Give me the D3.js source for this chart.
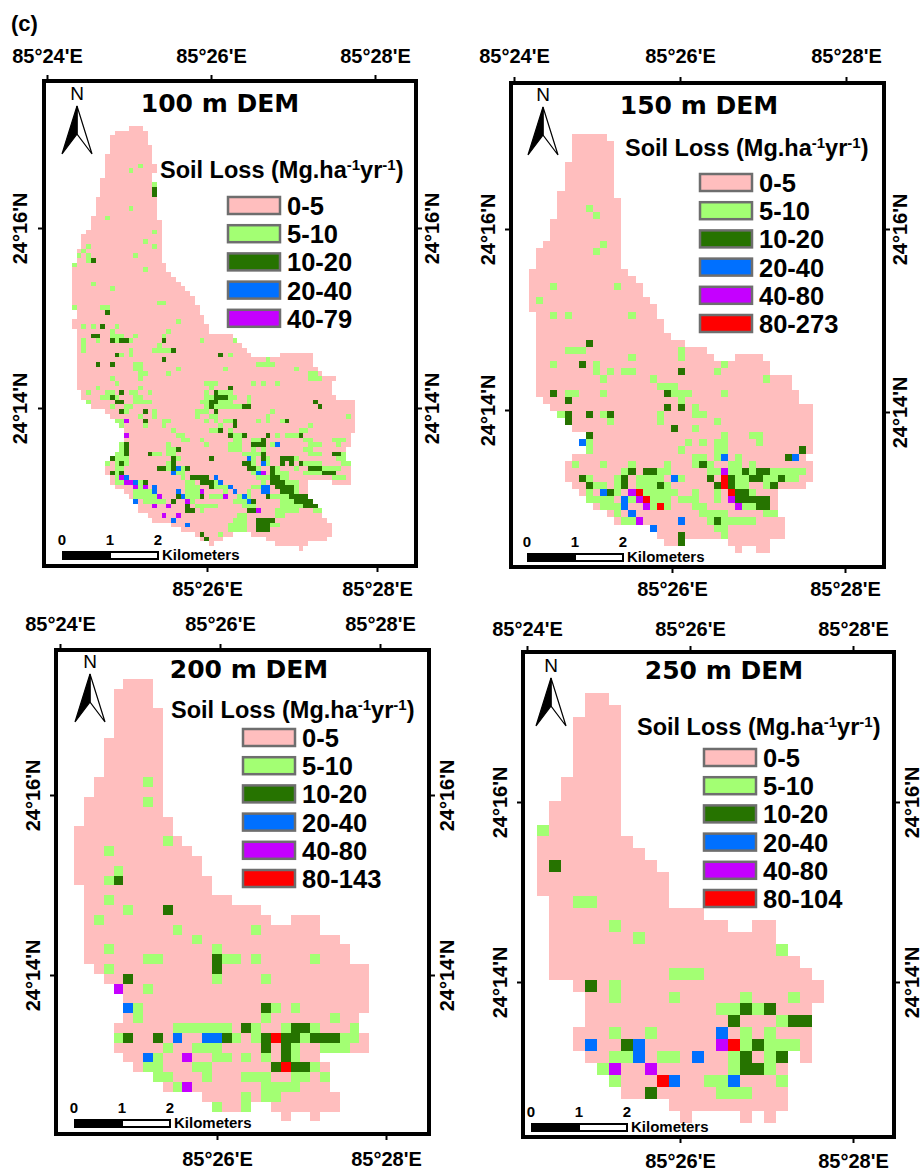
<!DOCTYPE html>
<html>
<head>
<meta charset="utf-8">
<title>Soil loss by DEM resolution</title>
<script src="https://cdn.jsdelivr.net/npm/d3@7"></script>
<style>
html, body { margin: 0; padding: 0; background: #fff; }
text { font-family: "Liberation Sans", Arial, sans-serif; fill: #000; }
.axis path { display: none; }
.axis line { stroke: #000; stroke-width: 2; }
.axis text { font-size: 20px; font-weight: bold; }
.dem { font-family: "DejaVu Sans", sans-serif; font-weight: bold; font-size: 25px; }
.ltitle { font-size: 23.5px; font-weight: bold; }
.llabel { font-size: 25.5px; font-weight: bold; }
.scale { font-size: 15px; font-weight: bold; }
</style>
</head>
<body>
<div id="chart"></div>
<script>
/* class names and colours, same order everywhere */
var classColors = ["#ffbebe", "#a3ff73", "#267300", "#0070ff", "#c500ff", "#ff0000"];

var legend100 = ["0-5", "5-10", "10-20", "20-40", "40-79"];
var legend150 = ["0-5", "5-10", "10-20", "20-40", "40-80", "80-273"];
var legend200 = ["0-5", "5-10", "10-20", "20-40", "40-80", "80-143"];
var legend250 = ["0-5", "5-10", "10-20", "20-40", "40-80", "80-104"];

/* footprint of the basin: index = raster row, values = first,last column pairs */
var rows100 = [[12,14],[9,15],[8,15],[8,15],[8,16],[8,16],[7,16],[7,16],[7,17],[7,17],[7,16],[6,16],[6,17],[6,17],[6,17],[5,17],[5,17],[5,17],[5,17],[4,17],
  [4,18],[4,18],[3,18],[2,18],[2,18],[2,18],[1,18],[1,18],[1,18],[0,19],[0,19],[0,20],[0,21],[0,22],[0,23],[0,24],[0,25],[0,25],[0,26],[1,26],
  [1,27],[0,27],[0,28],[1,28],[1,33],[1,34],[1,35],[1,36],[1,37,44,50],[1,50],[1,50],[1,51],[1,52],[1,55],[1,54],[1,54],[2,54],[2,55],[3,59],[4,59],
  [7,59],[8,59],[9,59],[10,59],[11,59],[11,58],[11,58],[11,58],[10,57],[9,57],[8,57],[7,58],[7,58],[7,58],[8,58],[8,49,55,58],[9,49],[11,49],[12,49],[13,50],
  [14,51],[14,51],[16,52],[17,53],[21,54],[23,54],[26,33,38,54],[27,31,41,53],[29,29,43,49],[48,48]];
var rows150 = [[6,10],[6,11],[6,11],[6,11],[5,11],[5,11],[5,11],[5,11],[4,11],[4,12],[4,12],[4,12],[3,12],[3,12],[3,12],[2,12],[1,12],[1,12],[1,12],[0,13],
  [0,14],[0,15],[0,15],[0,16],[0,17],[1,17],[1,18],[1,18],[1,19],[1,21],[1,24],[1,25,29,32],[1,33],[1,33],[1,36],[1,36],[1,37],[2,37],[3,39],[4,39],
  [5,39],[6,39],[8,39],[7,39],[8,39],[6,38],[5,39],[5,39],[5,39],[6,38],[7,34],[8,34],[9,34],[11,34],[12,35],[17,35],[18,35],[19,21,28,33],[29,29,32,33]];
var rows200 = [[5,7],[4,7],[4,7],[4,8],[4,8],[4,8],[3,8],[3,8],[3,8],[3,8],[2,8],[2,8],[1,8],[1,8],[1,9],[0,9],[0,10],[0,11],[0,12],[0,12],
  [0,13],[1,13],[1,15],[1,18],[1,19,22,24],[1,24],[1,26],[1,27],[1,27],[2,29],[3,29],[4,29],[5,29],[5,29],[5,28],[4,28],[4,29],[4,29],[5,24],[6,25],
  [8,25],[9,25],[13,26],[14,17,20,26],[21,21,24,24]];
var rows250 = [[4,5],[4,6],[3,6],[3,6],[3,6],[3,6],[3,6],[2,6],[2,6],[1,6],[1,6],[0,6],[0,7],[0,8],[0,9],[0,10],[0,10],[1,10],[1,13],[1,15,18,19],
  [1,19],[1,20],[1,21],[1,22],[3,23],[4,23],[4,22],[4,22],[3,22],[3,22],[4,20,22,22],[5,20],[6,20],[7,20],[11,20],[12,12,17,17,19,19]];

/* cells above the 0-5 class: [row, column] or [row, first column, last column] */
var green100 = [[8,14],[9,12],[12,17],[17,12],[19,7],[22,17],[24,15],[25,3],[25,17],[26,2],[27,1],[27,3],[27,13],[28,3],[29,0],[30,15],[33,4],[34,8],[37,18,19],[38,0],[38,6,7],
  [41,22],[42,2],[42,4],[42,9],[43,8],[43,20],[44,8,10],[44,13],[44,19],[45,2],[45,5],[45,9],[45,12],[45,27],[45,34],[46,2],[46,18],[47,2],[47,12],[47,17,20],[48,10],[48,12],[48,33],[49,41],
  [50,13,14],[50,39,42],[51,13,14],[51,22],[51,32],[51,47],[52,14,15],[52,20],[52,50,51],[53,8],[53,14],[53,50,52],[54,9],[54,28,30],[54,38],[54,40],[54,43],[55,5],[55,14],[55,29],
  [56,3],[56,7,8],[56,12,13],[56,16],[56,28],[56,31,33],[57,6,7],[57,9],[57,13,14],[57,28,29],[57,33,34],[57,37],[58,3],[58,13,16],[58,27,28],[58,31,33],[58,37],
  [59,8],[59,11,12],[59,28],[59,30,33],[59,34,35],[60,11],[60,17],[60,26,28],[60,42],[61,14],[61,17],[61,26],[61,29,30],[61,41],[61,58],
  [62,9,10],[62,19,20],[62,28],[62,30],[62,32,33],[62,39],[62,41],[62,44],[63,10],[63,15],[63,19],[63,31],[63,50],[64,21],[64,29,30],[64,33],[64,48,49],
  [65,22,23],[65,34,35],[65,43],[65,45,47],[66,23,24],[66,27],[66,34,35],[66,38,39],[66,49,50],[66,55,57],[67,10],[67,20],[67,28],[67,33,35],[67,42],[67,50,52],[67,56],
  [68,10],[68,20,21],[68,33,35],[68,38],[68,40],[68,49,50],[69,9,10],[69,17,18],[69,20,21],[69,36,39],[69,50,52],[69,57],[70,9,11],[70,22],[70,38],[70,41],[70,47],[70,56,57],
  [71,7],[71,9],[71,11],[71,20],[71,38],[71,41],[71,49,52],[71,57,58],[72,9,10],[72,20],[72,23],[72,39],[72,43],[72,47],[72,53,56],[73,9],[73,22,23],[73,38],[73,43,45],[73,49,52],
  [74,9],[74,23],[74,39,41],[74,44,45],[74,55,57],[75,9,10],[75,14],[75,24,25],[75,30],[75,40],[75,45,47],[76,14],[76,24,26],[76,30,32],[76,38,39],[76,47],[77,13,16],[77,24,26],[77,32],[77,37],[77,47],
  [78,13,17],[78,24,26],[78,29,31],[78,35,37],[78,42,45],[79,15,19],[79,24,25],[79,34,36],[79,44,46],[80,26,30],[80,36,38],[80,44,48],[81,27],[81,43,47],[81,51,52],[82,35,36],[82,43,44],[83,34,36],[84,33,36],[84,42,43],[85,33,36],[86,31]];
var dark100 = [[13,17],[14,17],[28,4],[39,7],[42,6],[44,4,5],[45,8],[45,10,11],[45,19],[47,21],[48,9],[48,31],[49,19],[50,5],[50,8],[55,33],[56,10],[56,30],[57,8],[57,30,32],[58,9,10],[58,29,30],[58,51],
  [59,29],[59,36,37],[59,52],[60,10],[60,15],[60,30],[62,15],[62,34],[62,45],[63,34],[64,31],[65,33],[65,36],[65,41],[65,48],[66,40],[67,11],[67,38,40],[68,11],[68,22],[69,11],[69,16],[69,40],[69,55,56],
  [70,8],[70,21],[70,29],[70,40],[70,44,46],[71,10],[71,21],[71,36,37],[71,44],[71,46],[71,48],[72,18,19],[72,21],[72,24],[72,37,38],[72,42],[72,50,52],[73,8],[73,10],[73,42],[73,53,55],
  [74,25,28],[74,42,43],[75,15],[75,27,29],[75,42,44],[76,29],[76,43,46],[77,44,46],[78,22],[78,27],[78,41],[78,46,49],[79,21],[79,38],[79,47,50],[80,24],[80,49,51],[81,24,25],[81,37,38],[83,39,42],[84,39,41],[85,39,41],[86,27],[87,28]];
var blue100 = [[67,43],[70,37],[71,40],[72,22],[73,21],[73,39],[74,11],[74,30],[75,13],[75,31],[76,17],[76,33],[76,40,41],[77,17],[77,22],[77,34],[77,40,41],[78,23],[78,36],[79,13],[79,37],[83,21],[84,24]];
var purple100 = [[62,11],[65,11],[73,40],[74,10],[75,11,12],[76,13],[76,15],[77,27],[78,18],[78,32],[79,24],[80,17],[80,20],[81,39],[82,19],[82,22]];

var green150 = [[10,8],[11,9],[15,10],[16,9],[21,3],[21,12],[23,1],[25,3],[25,5],[25,14],[30,5,7],[30,21],[31,14],[31,21],[32,3],[32,9],[32,27],[33,9],[33,11],[33,13,14],[33,26],[34,10],[34,17],[34,33],
  [35,18,20],[36,5,6],[36,10],[36,20,22],[36,27],[37,21],[38,23],[39,4],[39,10],[39,18],[39,23,24],[40,11],[40,18],[40,26],[41,23],[42,27],[42,31,32],[43,8],[43,22],[43,24],[43,26,27],[43,32],
  [44,8],[44,21],[44,26,27],[45,23,24],[45,26],[45,29],[46,6],[46,10],[46,14],[46,19],[46,23],[46,25],[46,28,29],[46,31],[47,13],[47,18,19],[47,25,26],[47,28,29],[47,31],[47,34,38],
  [48,8],[48,12],[48,15,18],[48,21],[48,29,30],[48,33,34],[48,36,37],[49,9,10],[49,12],[49,15,17],[49,19],[49,29,30],[49,33],[50,8],[50,12],[50,16,20],[50,23],[50,26],[50,31],
  [51,8,11],[51,14],[51,17,19],[51,21,23],[51,26],[52,10,12],[52,17],[52,19],[52,23,24],[52,30,31],[53,12],[53,24,27],[53,33,34],[54,13,14],[54,25],[54,27,31],[55,26,27],[56,27]];
var dark150 = [[29,8],[32,7],[33,21],[36,3],[36,19],[37,5],[38,19],[38,21],[39,5],[39,8],[39,11],[40,5],[41,20],[42,8],[44,38],[45,36],[46,24],[47,14],[47,16,17],[47,30],[47,32,33],
  [48,7],[48,13],[48,25],[48,28],[48,31,32],[48,35],[49,8],[49,13],[49,18],[49,26],[49,28],[49,34],[50,11],[50,29,30],[51,29,33],[52,32,33],[54,26],[56,21],[57,21]];
var blue150 = [[43,7],[45,27],[45,37],[48,20],[50,10],[51,13],[52,13],[53,14],[54,21],[55,17]];
var purple150 = [[47,27],[50,14],[51,15],[51,28],[52,16],[52,29],[54,15]];
var red150 = [[48,27],[49,27],[50,15],[50,28],[51,16],[52,18]];

var green200 = [[10,7],[12,7],[16,9],[17,3],[19,4],[20,3],[22,3],[23,5],[24,2],[25,10],[25,18],[26,12],[27,3],[27,14],[28,7,8],[28,15,16],[28,18],[28,24],[29,3],[30,14],[30,19],[31,7],[33,6],[33,20],[33,22],[34,6],[34,19],[34,26],
  [35,10,15],[35,18],[35,21],[35,24],[35,28],[36,4],[36,16],[36,18],[36,23],[36,27,28],[37,9],[37,12,14],[37,22],[37,25,27],[38,8],[38,14,15],[38,17],[38,19],[38,22],[39,7,8],[39,12,13],[39,24],
  [40,8,9],[40,13],[40,17,19],[40,22,23],[40,25],[41,10],[41,19,22],[42,17],[42,19,20],[43,14],[43,17]];
var dark200 = [[20,4],[23,9],[28,14],[29,14],[30,5],[33,19],[35,17],[35,22,23],[36,5],[36,8],[36,15],[36,19],[36,21,22],[36,24,26],[37,19],[37,21],[38,21],[39,20],[39,22,23]];
var blue200 = [[33,5],[36,10],[36,13,14],[38,7]];
var purple200 = [[31,4],[38,11],[41,11]];
var red200 = [[36,20],[39,21]];

var green250 = [[11,0],[17,3,4],[19,6],[20,8],[21,20],[23,11,13],[24,6],[25,6],[25,11],[25,17],[25,21],[26,15,16],[26,18],[27,20],[28,6],[28,9],[28,17],[28,19],[29,17],[29,19,21],[30,6,7],[30,10,11],[30,16],[30,19],[31,5],[31,16],[31,19],[32,6],[32,14,15],[32,20],[33,15,17]];
var dark250 = [[14,1],[24,4],[26,17],[26,19],[27,16],[27,21,22],[29,7],[29,18],[30,17],[30,20],[31,17,18],[33,9]];
var blue250 = [[28,15],[29,4],[29,8],[30,8],[30,13],[32,11],[32,16]];
var purple250 = [[29,15],[31,6],[31,9]];
var red250 = [[29,16],[32,10]];

/* tick labels on the graticule, minutes of arc */
var lonTop = [24, 26, 28];
var lonBottom = [26, 28];
var latTicks = [16, 14];

var width = 922;
var height = 1172;

var svg = d3.select("#chart").append("svg")
    .attr("width", width)
    .attr("height", height);

/* panel layout */
var panels = [
  { name: "100 m DEM", rows: rows100, cells: [[], green100, dark100, blue100, purple100, []], legend: legend100,
    frame: [44, 81, 416, 566], x0: 72, y0: 125.8, cell: 4.723,
    top: [47, 211, 55], bottom: [207, 377, 590], left: [228, 408, 20], right: [228, 408, 432],
    titleX: 220, titleY: 112, legX: 160, legY: 178, swX: 228, swY: 197, north: [77, 106], bar: [62, 551] },
  { name: "150 m DEM", rows: rows150, cells: [[], green150, dark150, blue150, purple150, red150], legend: legend150,
    frame: [511, 83, 884, 567], x0: 529, y0: 134, cell: 7.1,
    top: [514, 680, 55], bottom: [672, 845, 590], left: [229, 410, 488], right: [229, 412, 900],
    titleX: 699, titleY: 114, legX: 625, legY: 156, swX: 700, swY: 174, north: [543, 107], bar: [527, 553] },
  { name: "200 m DEM", rows: rows200, cells: [[], green200, dark200, blue200, purple200, red200], legend: legend200,
    frame: [56, 650, 429, 1134], x0: 74.3, y0: 679, cell: 9.83,
    top: [60, 220, 623], bottom: [217, 386, 1160], left: [795, 975, 33], right: [795, 975, 447],
    titleX: 249, titleY: 678, legX: 171, legY: 718, swX: 243, swY: 729, north: [90, 674], bar: [74, 1119] },
  { name: "250 m DEM", rows: rows250, cells: [[], green250, dark250, blue250, purple250, red250], legend: legend250,
    frame: [523, 652, 894, 1137], x0: 537.3, y0: 693.3, cell: 11.93,
    top: [527, 690, 628], bottom: [680, 853, 1162], left: [802, 982, 500], right: [802, 982, 912],
    titleX: 724, titleY: 679, legX: 637, legY: 735, swX: 704, swY: 749, north: [551, 678], bar: [531, 1123] }
];

svg.append("text")
    .attr("x", 11)
    .attr("y", 31)
    .style("font-size", "22px")
    .style("font-weight", "bold")
    .text("(c)");

panels.forEach(drawPanel);

function drawPanel(p) {
    var g = svg.append("g").attr("class", "panel");
    var f = p.frame;
    var nrows = p.rows.length;
    var ncols = d3.max(p.rows, function (r) { return d3.max(r); }) + 1;

    var x = d3.scaleLinear().domain([0, ncols]).range([p.x0, p.x0 + ncols * p.cell]);
    var y = d3.scaleLinear().domain([0, nrows]).range([p.y0, p.y0 + nrows * p.cell]);

    // split the row table into spans
    var spans = [];
    p.rows.forEach(function (r, i) {
        for (var k = 0; k < r.length; k += 2) {
            spans.push([i, r[k], r[k + 1]]);
        }
    });

    var map = g.append("g").attr("shape-rendering", "crispEdges");
    drawCells(map, spans, classColors[0], x, y);
    p.cells.forEach(function (cells, i) {
        if (cells.length) drawCells(map, cells, classColors[i], x, y);
    });

    // frame
    g.append("rect")
        .attr("x", f[0])
        .attr("y", f[1])
        .attr("width", f[2] - f[0])
        .attr("height", f[3] - f[1])
        .attr("fill", "none")
        .attr("stroke", "#000")
        .attr("stroke-width", 4);

    drawAxes(g, p);

    g.append("text")
        .attr("class", "dem")
        .attr("x", p.titleX)
        .attr("y", p.titleY)
        .attr("text-anchor", "middle")
        .text(p.name);

    drawLegend(g, p);
    drawNorth(g, p.north);
    drawBar(g, p.bar);
}

function drawCells(parent, data, color, x, y) {
    parent.append("g").selectAll("rect")
        .data(data)
        .enter().append("rect")
        .attr("x", function (d) { return x(d[1]); })
        .attr("y", function (d) { return y(d[0]); })
        .attr("width", function (d) {
            var last = d.length > 2 ? d[2] : d[1];
            return x(last + 1) - x(d[1]);
        })
        .attr("height", function (d) { return y(d[0] + 1) - y(d[0]); })
        .attr("fill", color);
}

function drawAxes(g, p) {
    var f = p.frame;
    // two minutes of arc between ticks on every side
    var topScale = d3.scaleLinear().domain([24, 26]).range([p.top[0], p.top[1]]);
    var botScale = d3.scaleLinear().domain([26, 28]).range([p.bottom[0], p.bottom[1]]);
    var leftScale = d3.scaleLinear().domain([16, 14]).range([p.left[0], p.left[1]]);
    var rightScale = d3.scaleLinear().domain([16, 14]).range([p.right[0], p.right[1]]);
    var lonFmt = function (m) { return "85°" + m + "'E"; };
    var latFmt = function (m) { return "24°" + m + "'N"; };

    g.append("g")
        .attr("class", "axis")
        .attr("transform", "translate(0," + (f[1] - 2) + ")")
        .call(d3.axisTop(topScale).tickValues(lonTop).tickFormat(lonFmt).tickSize(4).tickPadding(f[1] - p.top[2] - 14));

    g.append("g")
        .attr("class", "axis")
        .attr("transform", "translate(0," + (f[3] + 2) + ")")
        .call(d3.axisBottom(botScale).tickValues(lonBottom).tickFormat(lonFmt).tickSize(4).tickPadding(p.bottom[2] - f[3] - 14));

    var l = g.append("g")
        .attr("class", "axis")
        .attr("transform", "translate(" + (f[0] - 2) + ",0)")
        .call(d3.axisLeft(leftScale).tickValues(latTicks).tickFormat(latFmt).tickSize(4));
    l.selectAll("text")
        .attr("text-anchor", "middle")
        .attr("dy", 0)
        .attr("x", 0)
        .attr("y", 0)
        .attr("transform", "translate(" + (p.left[2] + 7 - (f[0] - 2)) + ",0) rotate(-90)");

    var r = g.append("g")
        .attr("class", "axis")
        .attr("transform", "translate(" + (f[2] + 2) + ",0)")
        .call(d3.axisRight(rightScale).tickValues(latTicks).tickFormat(latFmt).tickSize(4));
    r.selectAll("text")
        .attr("text-anchor", "middle")
        .attr("dy", 0)
        .attr("x", 0)
        .attr("y", 0)
        .attr("transform", "translate(" + (p.right[2] + 7 - (f[2] + 2)) + ",0) rotate(-90)");
}

function drawLegend(g, p) {
    var t = g.append("text")
        .attr("class", "ltitle")
        .attr("x", p.legX)
        .attr("y", p.legY);
    t.append("tspan").text("Soil Loss (Mg.ha");
    t.append("tspan").attr("dy", -8).style("font-size", "15px").text("-1");
    t.append("tspan").attr("dy", 8).text("yr");
    t.append("tspan").attr("dy", -8).style("font-size", "15px").text("-1");
    t.append("tspan").attr("dy", 8).text(")");

    var item = g.selectAll(".item")
        .data(p.legend)
        .enter().append("g")
        .attr("class", "item")
        .attr("transform", function (d, i) { return "translate(" + p.swX + "," + (p.swY + i * 28.2) + ")"; });

    item.append("rect")
        .attr("width", 52)
        .attr("height", 17)
        .attr("fill", function (d, i) { return classColors[i]; })
        .attr("stroke", "#6e6e6e")
        .attr("stroke-width", 2.5);

    item.append("text")
        .attr("class", "llabel")
        .attr("x", 59)
        .attr("y", 18)
        .text(function (d) { return d; });
}

function drawNorth(g, pos) {
    var n = g.append("g").attr("transform", "translate(" + pos[0] + "," + pos[1] + ")");
    n.append("text")
        .attr("y", -6)
        .attr("text-anchor", "middle")
        .style("font-size", "19px")
        .text("N");
    n.append("path")
        .attr("d", "M0,0L15,48L0,28Z")
        .attr("fill", "#fff")
        .attr("stroke", "#000")
        .attr("stroke-width", 1.2);
    n.append("path")
        .attr("d", "M0,0L-15,48L0,28Z")
        .attr("fill", "#000")
        .attr("stroke", "#000")
        .attr("stroke-width", 1.2);
}

function drawBar(g, pos) {
    var km = d3.scaleLinear().domain([0, 2]).range([pos[0], pos[0] + 96]);
    var b = g.append("g");
    b.append("rect")
        .attr("x", km(0))
        .attr("y", pos[1])
        .attr("width", km(1) - km(0))
        .attr("height", 9)
        .attr("fill", "#000");
    b.append("rect")
        .attr("x", km(1))
        .attr("y", pos[1] + 1)
        .attr("width", km(2) - km(1))
        .attr("height", 7)
        .attr("fill", "#fff")
        .attr("stroke", "#000")
        .attr("stroke-width", 2);
    b.selectAll(".scale")
        .data([0, 1, 2])
        .enter().append("text")
        .attr("class", "scale")
        .attr("x", function (d) { return km(d); })
        .attr("y", pos[1] - 6)
        .attr("text-anchor", "middle")
        .text(function (d) { return d; });
    b.append("text")
        .attr("class", "scale")
        .attr("x", km(2) + 4)
        .attr("y", pos[1] + 9)
        .text("Kilometers");
}
</script>
</body>
</html>
